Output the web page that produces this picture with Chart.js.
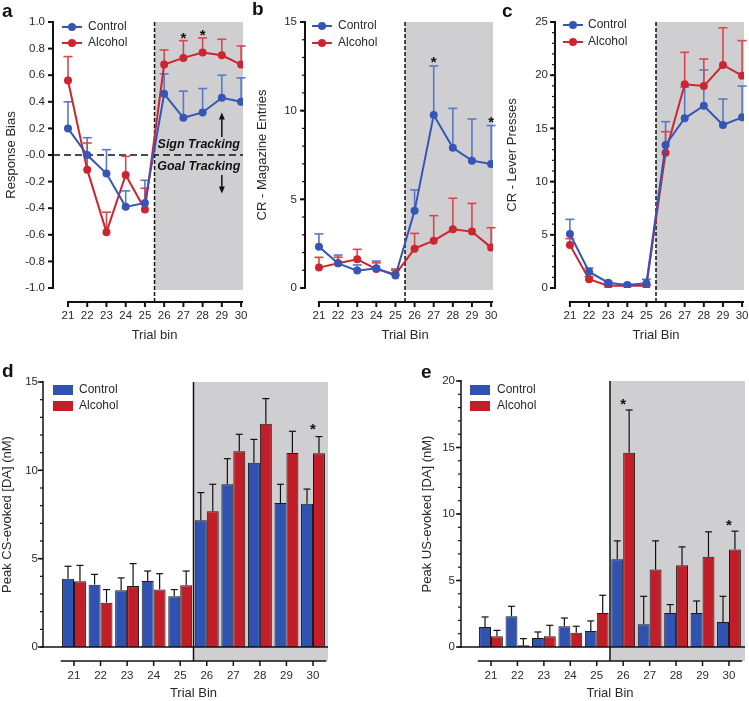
<!DOCTYPE html>
<html>
<head>
<meta charset="utf-8">
<script src="https://cdn.jsdelivr.net/npm/chart.js@4.4.1/dist/chart.umd.min.js"></script>
<style>
  body { margin: 0; background: #fff; font-family: "Liberation Sans", Arial, sans-serif; }
  #wrap { position: relative; width: 749px; height: 701px; overflow: hidden; }
  canvas { position: absolute; }
  .tag { position: absolute; font-weight: bold; font-size: 19px; line-height: 19px; color: #111; }
</style>
</head>
<body>
<div id="wrap">
  <canvas id="a" width="250" height="343" style="left:0;top:0"></canvas>
  <canvas id="b" width="250" height="343" style="left:250px;top:0"></canvas>
  <canvas id="c" width="249" height="343" style="left:500px;top:0"></canvas>
  <canvas id="d" width="340" height="340" style="left:0;top:360px"></canvas>
  <canvas id="e" width="374" height="340" style="left:375px;top:360px"></canvas>
  <div class="tag" style="left:2px;top:1px">a</div>
  <div class="tag" style="left:252px;top:-1px">b</div>
  <div class="tag" style="left:502px;top:1px">c</div>
  <div class="tag" style="left:2px;top:361px">d</div>
  <div class="tag" style="left:421px;top:362px">e</div>
</div>
<script>
// trial bins on the x axis
const bins = [21, 22, 23, 24, 25, 26, 27, 28, 29, 30];
const binLabels = ['21', '22', '23', '24', '25', '26', '27', '28', '29', '30'];
const seriesNames = ['Control', 'Alcohol'];

// a - response bias (mean and upward SEM)
const biasControl = [0.20, 0.00, -0.14, -0.39, -0.36, 0.46, 0.28, 0.32, 0.43, 0.40];
const biasControlErr = [0.20, 0.13, 0.18, 0.12, 0.17, 0.15, 0.20, 0.18, 0.17, 0.18];
const biasAlcohol = [0.56, -0.11, -0.58, -0.15, -0.41, 0.68, 0.73, 0.77, 0.75, 0.68];
const biasAlcoholErr = [0.18, 0.20, 0.15, 0.14, 0.16, 0.11, 0.13, 0.11, 0.12, 0.14];
const biasTicks = [-1, -0.8, -0.6, -0.4, -0.2, 0, 0.2, 0.4, 0.6, 0.8, 1];
const biasTickLabels = ['-1.0', '-0.8', '-0.6', '-0.4', '-0.2', '-0.0', '0.2', '0.4', '0.6', '0.8', '1.0'];

// b - magazine entries
const magControl = [2.33, 1.39, 0.98, 1.11, 0.70, 4.35, 9.76, 7.91, 7.18, 6.99];
const magControlErr = [0.72, 0.47, 0.32, 0.41, 0.30, 1.18, 2.76, 2.22, 2.35, 2.17];
const magAlcohol = [1.15, 1.39, 1.62, 1.07, 0.77, 2.22, 2.67, 3.31, 3.18, 2.29];
const magAlcoholErr = [0.58, 0.35, 0.56, 0.35, 0.30, 0.86, 1.41, 1.75, 1.59, 1.11];
const magTicks = [0, 5, 10, 15];
const magTickLabels = ['0', '5', '10', '15'];

// c - lever presses
const leverControl = [5.07, 1.53, 0.50, 0.28, 0.44, 13.44, 15.95, 17.13, 15.32, 16.04];
const leverControlErr = [1.38, 0.35, 0.12, 0.08, 0.38, 2.19, 2.95, 3.36, 2.44, 2.94];
const leverAlcohol = [4.04, 0.82, 0.22, 0.22, 0.22, 12.72, 19.14, 18.98, 20.96, 19.96];
const leverAlcoholErr = [0.6, 0.25, 0.1, 0.1, 0.1, 1.97, 3.01, 2.54, 3.50, 3.29];
const leverTicks = [0, 5, 10, 15, 20, 25];
const leverTickLabels = ['0', '5', '10', '15', '20', '25'];

// d - peak CS-evoked dopamine
const csControl = [3.87, 3.53, 3.21, 3.74, 2.87, 7.17, 9.21, 10.43, 8.15, 8.11];
const csControlErr = [0.70, 0.58, 0.70, 0.56, 0.38, 1.57, 1.45, 1.32, 1.06, 0.83];
const csAlcohol = [3.72, 2.51, 3.45, 3.25, 3.49, 7.68, 11.08, 12.64, 10.98, 10.96];
const csAlcoholErr = [0.90, 0.74, 1.27, 0.90, 0.81, 1.53, 0.96, 1.42, 1.23, 0.95];
const csTicks = [0, 5, 10, 15];
const csTickLabels = ['0', '5', '10', '15'];

// e - peak US-evoked dopamine
const usControl = [1.51, 2.31, 0.68, 1.56, 1.20, 6.60, 1.71, 2.56, 2.56, 1.88];
const usControlErr = [0.75, 0.75, 0.45, 0.62, 0.76, 1.38, 2.10, 0.63, 0.90, 1.93];
const usAlcohol = [0.80, 0.13, 0.80, 1.08, 2.56, 14.6, 5.82, 6.15, 6.78, 7.33];
const usAlcoholErr = [0.45, 0.50, 0.83, 0.48, 1.33, 3.22, 2.16, 1.38, 1.88, 1.38];
const usTicks = [0, 5, 10, 15, 20];
const usTickLabels = ['0', '5', '10', '15', '20'];

// significance marks (bins)
const biasStars = [27, 28];
const magStars = [27, 30];
const csStars = [30];
const usStars = [26, 30];

Chart.defaults.font.family = '"Liberation Sans", Arial, sans-serif';
Chart.defaults.color = '#2a2a2a';

const BLUE = '#3556b4', RED = '#cc2530';
const BLUE_ERR = '#5a78c8', RED_ERR = '#d8464e';
const BAR_BLUE = '#3052b0', BAR_RED = '#c21e29';
const SHADE = '#cfcfd1';
const FONT = '"Liberation Sans", Arial, sans-serif';

function seg(ctx, x0, y0, x1, y1) {
  ctx.beginPath();
  ctx.moveTo(x0, y0);
  ctx.lineTo(x1, y1);
  ctx.stroke();
}

function drawErrors(chart, p, colors, half, lw) {
  const { ctx, scales: { y } } = chart;
  p.errs.forEach((err, i) => {
    const meta = chart.getDatasetMeta(i);
    const vals = p.means[i];
    ctx.strokeStyle = colors[i];
    ctx.lineWidth = lw;
    meta.data.forEach((el, j) => {
      const top = y.getPixelForValue(vals[j] + err[j]);
      seg(ctx, el.x, el.y, el.x, top);
      seg(ctx, el.x - half, top, el.x + half, top);
    });
  });
}

function drawAxes(chart, p) {
  const { ctx, chartArea: ca, scales: { x, y } } = chart;
  const bar = p.kind === 'bar';
  const axisY = ca.bottom + 14;
  ctx.strokeStyle = '#111';
  ctx.lineWidth = p.axisW;
  seg(ctx, ca.left, ca.top - 1, ca.left, ca.bottom + 1);
  p.yTicks.forEach(v => {
    const py = y.getPixelForValue(v);
    seg(ctx, ca.left - 5, py, ca.left, py);
  });
  if (p.minor) {
    ctx.lineWidth = 1.2;
    for (let v = p.yMin; v <= p.yMax; v += p.minor) {
      const py = y.getPixelForValue(v);
      seg(ctx, ca.left - 3, py, ca.left, py);
    }
  }
  ctx.lineWidth = p.axisW;
  const x0 = bar ? x.getPixelForValue(20.5) : x.getPixelForValue(21) - 1;
  const x1 = bar ? x.getPixelForValue(30.5) : ca.right;
  seg(ctx, x0, axisY, x1, axisY);
  bins.forEach(b => {
    const px = x.getPixelForValue(b);
    seg(ctx, px, axisY, px, axisY + 5);
  });
  if (bar) {
    const sep = x.getPixelForValue(25.5);
    seg(ctx, ca.left, ca.bottom, ca.right, ca.bottom);
    seg(ctx, sep, ca.top, sep, axisY);
  }
}

function drawStars(chart, p) {
  const { ctx, scales: { x, y } } = chart;
  const s = p.stars;
  ctx.fillStyle = '#111';
  ctx.font = 'bold 15px ' + FONT;
  ctx.textAlign = 'center';
  ctx.textBaseline = 'alphabetic';
  s.bins.forEach(b => {
    const j = bins.indexOf(b);
    const top = y.getPixelForValue(p.means[s.series][j] + p.errs[s.series][j]);
    ctx.fillText('*', x.getPixelForValue(b), top - s.gap + 9);
  });
}

function drawLegend(chart, p) {
  const { ctx, chartArea: ca } = chart;
  const lg = p.legend;
  ctx.font = '12px ' + FONT;
  ctx.textAlign = 'left';
  ctx.textBaseline = 'middle';
  chart.data.datasets.forEach((ds, i) => {
    const ly = ca.top + lg.y[i];
    const lx = ca.left + lg.x;
    const col = ds.backgroundColor;
    if (p.kind === 'bar') {
      ctx.fillStyle = col;
      ctx.fillRect(lx, ly - 5, 20, 10);
    } else {
      ctx.strokeStyle = col;
      ctx.lineWidth = 2;
      seg(ctx, lx, ly, lx + 20, ly);
      ctx.fillStyle = col;
      ctx.beginPath();
      ctx.arc(lx + 10, ly, 4, 0, Math.PI * 2);
      ctx.fill();
    }
    ctx.fillStyle = '#2a2a2a';
    ctx.fillText(ds.label, ca.left + lg.tx, ly);
  });
}

function drawXTitle(chart, p) {
  const { ctx, chartArea: ca, scales: { x } } = chart;
  ctx.fillStyle = '#2a2a2a';
  ctx.font = '13px ' + FONT;
  ctx.textAlign = 'center';
  ctx.textBaseline = 'middle';
  const cx = (x.getPixelForValue(bins[0]) + x.getPixelForValue(bins[bins.length - 1])) / 2;
  ctx.fillText(p.xTitle, cx, ca.bottom + p.xTitleY);
}

// sign / goal tracking notes on panel a
const noteX = 27.8;
const signY = 0.075, goalY = -0.09;
const arrowX = 29;
const upArrow = [0.135, 0.32];
const downArrow = [-0.15, -0.29];

function arrow(ctx, px, y0, y1) {
  const dir = Math.sign(y1 - y0);
  ctx.strokeStyle = '#111';
  ctx.fillStyle = '#111';
  ctx.lineWidth = 1.5;
  seg(ctx, px, y0, px, y1 - dir * 5);
  ctx.beginPath();
  ctx.moveTo(px, y1);
  ctx.lineTo(px - 3, y1 - dir * 7);
  ctx.lineTo(px + 3, y1 - dir * 7);
  ctx.closePath();
  ctx.fill();
}

function trackingNotes(chart) {
  const { ctx, scales: { x, y } } = chart;
  ctx.fillStyle = '#111';
  ctx.font = 'italic bold 12.5px ' + FONT;
  ctx.textAlign = 'center';
  ctx.textBaseline = 'middle';
  ctx.fillText('Sign Tracking', x.getPixelForValue(noteX), y.getPixelForValue(signY));
  ctx.fillText('Goal Tracking', x.getPixelForValue(noteX), y.getPixelForValue(goalY));
  const px = x.getPixelForValue(arrowX);
  arrow(ctx, px, y.getPixelForValue(upArrow[0]), y.getPixelForValue(upArrow[1]));
  arrow(ctx, px, y.getPixelForValue(downArrow[0]), y.getPixelForValue(downArrow[1]));
}

function decor(p) {
  const bar = p.kind === 'bar';
  return {
    id: 'decor',
    beforeDatasetsDraw(chart) {
      const { ctx, chartArea: ca, scales: { x, y } } = chart;
      const sep = x.getPixelForValue(25.5);
      const axisY = ca.bottom + 14;
      ctx.save();
      ctx.fillStyle = SHADE;
      ctx.fillRect(sep, ca.top, ca.right - sep, (bar ? axisY : ca.bottom + 2) - ca.top);
      if (!bar) {
        ctx.strokeStyle = '#111';
        ctx.lineWidth = 1.5;
        ctx.setLineDash([4, 2]);
        seg(ctx, sep, ca.top, sep, axisY);
        if (p.zeroDash) {
          const y0 = y.getPixelForValue(0);
          ctx.setLineDash([7, 4]);
          seg(ctx, ca.left, y0, ca.right, y0);
        }
        ctx.setLineDash([]);
        drawErrors(chart, p, [BLUE_ERR, RED_ERR], 4.5, 1.6);
      }
      ctx.restore();
    },
    afterDatasetsDraw(chart) {
      const { ctx } = chart;
      ctx.save();
      if (bar) drawErrors(chart, p, ['#111', '#111'], 3.5, 1.2);
      drawAxes(chart, p);
      drawStars(chart, p);
      drawLegend(chart, p);
      if (p.extra) p.extra(chart);
      drawXTitle(chart, p);
      ctx.restore();
    }
  };
}

function makePanel(id, p) {
  const bar = p.kind === 'bar';
  const colors = bar ? [BAR_BLUE, BAR_RED] : [BLUE, RED];
  const datasets = p.means.map((m, i) => ({
    label: seriesNames[i],
    data: bins.map((b, j) => ({ x: b, y: m[j] })),
    backgroundColor: colors[i],
    borderColor: bar ? '#1b1b1b' : colors[i],
    borderWidth: bar ? 1 : 2,
    pointRadius: 4,
    pointBackgroundColor: colors[i],
    pointBorderWidth: 0,
    categoryPercentage: 0.9,
    barPercentage: 1
  }));
  return new Chart(document.getElementById(id), {
    type: bar ? 'bar' : 'line',
    data: { datasets },
    options: {
      responsive: false,
      animation: false,
      layout: { padding: { top: p.padTop, right: p.padRight, left: 0, bottom: 0 } },
      plugins: { legend: { display: false }, tooltip: { enabled: false } },
      scales: {
        x: {
          type: 'linear',
          offset: false,
          min: p.xMin,
          max: p.xMax,
          afterBuildTicks: s => { s.ticks = bins.map(v => ({ value: v })); },
          afterFit: s => { s.height = p.xH; s.paddingLeft = 0; s.paddingRight = 0; },
          grid: { display: false, drawTicks: false, offset: false },
          border: { display: false },
          ticks: {
            autoSkip: false, maxRotation: 0, padding: p.xPad,
            font: { size: 11.5 }, color: '#2a2a2a',
            callback: (v, i) => binLabels[i]
          }
        },
        y: {
          min: p.yMin,
          max: p.yMax,
          afterBuildTicks: s => { s.ticks = p.yTicks.map(v => ({ value: v })); },
          afterFit: s => { s.width = p.yW; s.paddingTop = 0; s.paddingBottom = 0; },
          grid: { display: false, drawTicks: false },
          border: { display: false },
          ticks: {
            autoSkip: false, padding: p.yPad,
            font: { size: 11.5 }, color: '#2a2a2a',
            callback: (v, i) => p.yLabels[i]
          },
          title: {
            display: true, text: p.yTitle, color: '#2a2a2a',
            font: { size: 13 }, padding: { top: p.yTitlePad, bottom: 0 }
          }
        }
      }
    },
    plugins: [decor(p)]
  });
}

const lineLegend = (x, tx, y) => ({ x, tx, y });

makePanel('a', {
  kind: 'line', means: [biasControl, biasAlcohol], errs: [biasControlErr, biasAlcoholErr],
  xMin: 20.22, xMax: 30.1, yMin: -1, yMax: 1, yTicks: biasTicks, yLabels: biasTickLabels,
  yTitle: 'Response Bias', xTitle: 'Trial bin',
  padTop: 22, padRight: 7, yW: 53, xH: 55, xPad: 21, yPad: 8, yTitlePad: 4, xTitleY: 47,
  axisW: 2, minor: 0, zeroDash: true,
  stars: { series: 1, bins: biasStars, gap: 7 },
  legend: lineLegend(9, 35, [5, 21]),
  extra: trackingNotes
});

makePanel('b', {
  kind: 'line', means: [magControl, magAlcohol], errs: [magControlErr, magAlcoholErr],
  xMin: 20.27, xMax: 30.1, yMin: 0, yMax: 15, yTicks: magTicks, yLabels: magTickLabels,
  yTitle: 'CR - Magazine Entries', xTitle: 'Trial Bin',
  padTop: 22, padRight: 7, yW: 55, xH: 55, xPad: 21, yPad: 8, yTitlePad: 5, xTitleY: 47,
  axisW: 2, minor: 1,
  stars: { series: 0, bins: magStars, gap: 8 },
  legend: lineLegend(7, 33, [4, 21])
});

makePanel('c', {
  kind: 'line', means: [leverControl, leverAlcohol], errs: [leverControlErr, leverAlcoholErr],
  xMin: 20.22, xMax: 30.1, yMin: 0, yMax: 25, yTicks: leverTicks, yLabels: leverTickLabels,
  yTitle: 'CR - Lever Presses', xTitle: 'Trial Bin',
  padTop: 22, padRight: 5, yW: 55, xH: 55, xPad: 21, yPad: 7, yTitlePad: 5, xTitleY: 47,
  axisW: 2, minor: 1,
  stars: { series: 1, bins: [], gap: 8 },
  legend: lineLegend(8, 33, [3, 20])
});

makePanel('d', {
  kind: 'bar', means: [csControl, csAlcohol], errs: [csControlErr, csAlcoholErr],
  xMin: 19.833, xMax: 30.565, yMin: 0, yMax: 15, yTicks: csTicks, yLabels: csTickLabels,
  yTitle: 'Peak CS-evoked [DA] (nM)', xTitle: 'Trial Bin',
  padTop: 22, padRight: 12, yW: 43, xH: 53, xPad: 22, yPad: 5, yTitlePad: 0, xTitleY: 46,
  axisW: 1.5, minor: 1,
  stars: { series: 1, bins: csStars, gap: 12 },
  legend: { x: 10, tx: 36, y: [8, 24] }
});

makePanel('e', {
  kind: 'bar', means: [usControl, usAlcohol], errs: [usControlErr, usAlcoholErr],
  xMin: 19.866, xMax: 30.606, yMin: 0, yMax: 20, yTicks: usTicks, yLabels: usTickLabels,
  yTitle: 'Peak US-evoked [DA] (nM)', xTitle: 'Trial Bin',
  padTop: 21, padRight: 4, yW: 86, xH: 53, xPad: 22, yPad: 6, yTitlePad: 45, xTitleY: 46,
  axisW: 1.5, minor: 1,
  stars: { series: 1, bins: usStars, gap: 10 },
  legend: { x: 9, tx: 36, y: [9, 25] }
});
</script>
</body>
</html>
